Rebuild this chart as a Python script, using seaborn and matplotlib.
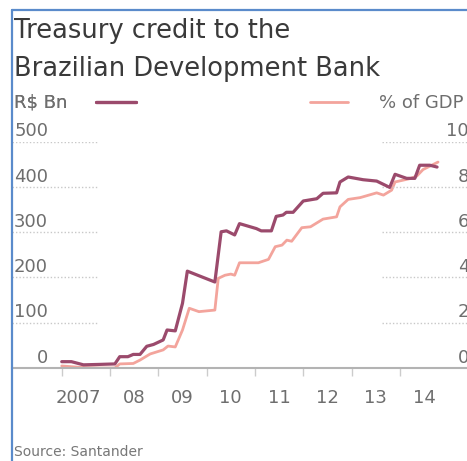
import pandas as pd
import matplotlib.pyplot as plt
import seaborn as sns
from matplotlib.lines import Line2D

# values (decimal years)
bn_years = [2007.0, 2007.2, 2007.45, 2007.8, 2008.1, 2008.2, 2008.37, 2008.48, 2008.62, 2008.76,
            2008.9, 2009.1, 2009.18, 2009.35, 2009.5, 2009.6, 2009.86, 2010.17, 2010.3, 2010.41,
            2010.58, 2010.68, 2011.03, 2011.13, 2011.34, 2011.44, 2011.58, 2011.65, 2011.79, 2012.0,
            2012.28, 2012.41, 2012.69, 2012.76, 2012.93, 2013.24, 2013.52, 2013.79, 2013.9, 2014.14,
            2014.31, 2014.41, 2014.62, 2014.77]
bn_values = [14, 14, 7, 8, 9, 25, 25, 30, 30, 48,
             52, 62, 84, 82, 143, 214, 203, 190, 301, 303,
             294, 319, 308, 303, 303, 335, 338, 344, 344, 369,
             374, 386, 387, 411, 422, 416, 413, 399, 428, 419,
             419, 448, 448, 444]

gdp_years = [2007.0, 2007.37, 2007.8, 2008.1, 2008.2, 2008.48, 2008.62, 2008.83, 2009.1, 2009.2,
             2009.35, 2009.5, 2009.64, 2009.84, 2010.17, 2010.24, 2010.38, 2010.5, 2010.58, 2010.68,
             2011.07, 2011.28, 2011.42, 2011.56, 2011.66, 2011.76, 2011.97, 2012.15, 2012.41, 2012.69,
             2012.76, 2012.93, 2013.18, 2013.52, 2013.66, 2013.83, 2013.9, 2014.21, 2014.35, 2014.48,
             2014.79]
gdp_values = [0.09, 0.03, 0.0, 0.0, 0.18, 0.2, 0.35, 0.62, 0.8, 0.97,
              0.93, 1.68, 2.64, 2.49, 2.56, 3.96, 4.1, 4.15, 4.1, 4.65,
              4.65, 4.8, 5.36, 5.43, 5.65, 5.6, 6.2, 6.24, 6.58, 6.68,
              7.12, 7.45, 7.53, 7.74, 7.64, 7.86, 8.22, 8.37, 8.48, 8.77,
              9.1]

year_ticks = [2007, 2008, 2009, 2010, 2011, 2012, 2013, 2014]
year_label_pos = [2007.34, 2008.5, 2009.5, 2010.5, 2011.5, 2012.5, 2013.5, 2014.5]
year_labels = ["2007", "08", "09", "10", "11", "12", "13", "14"]
bn_ticks = [0, 100, 200, 300, 400, 500]
gdp_ticks = [0, 2, 4, 6, 8, 10]

dark = "#9b4a6c"
light = "#f3a49c"
grey = "#6e6e6e"
border = "#5a8bcb"

df_bn = pd.DataFrame({"year": bn_years, "value": bn_values})
df_gdp = pd.DataFrame({"year": gdp_years, "value": gdp_values})

sns.set_style("white")
plt.rcParams["font.family"] = ["DejaVu Sans"]

W, H = 467, 461
fig = plt.figure(figsize=(W / 100, H / 100), dpi=100)
ax = fig.add_axes([12 / W, (H - 368) / H, (W - 12) / W, (368 - 141.7) / H])
ax2 = ax.twinx()

sns.lineplot(data=df_bn, x="year", y="value", ax=ax, color=dark, lw=2.3, zorder=3)
sns.lineplot(data=df_gdp, x="year", y="value", ax=ax2, color=light, lw=2.0, zorder=2)
ax.set_zorder(ax2.get_zorder() + 1)
ax.patch.set_visible(False)

ax.set_xlim(2005.97, 2015.39)
ax.set_ylim(0, 500)
ax2.set_ylim(0, 10)

for a in (ax, ax2):
    for s in a.spines.values():
        s.set_visible(False)
    a.set_yticks([])
    a.set_xlabel("")
    a.set_ylabel("")
ax.spines["bottom"].set_visible(True)
ax.spines["bottom"].set_color("#b3b3b3")
ax.spines["bottom"].set_linewidth(1.5)

ax.set_xticks(year_ticks)
ax.set_xticklabels([])
ax.set_xticks(year_label_pos, minor=True)
ax.set_xticklabels(year_labels, minor=True, fontsize=13, color=grey)
ax.tick_params(axis="x", which="major", bottom=True, length=6, width=1, color="#cccccc")
ax.tick_params(axis="x", which="minor", bottom=True, length=0, pad=15)

# dotted gridlines only under the tick labels
for v in bn_ticks:
    if v > 0:
        ax.axhline(v, xmin=0, xmax=0.187, color="#c8c8c8", ls=(0, (1, 1.5)), lw=1)
    ax.annotate(str(v), xy=(0, v), xycoords=("axes fraction", "data"),
                xytext=(26, 7.5), textcoords="offset points",
                ha="right", va="center", fontsize=13, color=grey)
for v in gdp_ticks:
    if v > 0:
        ax2.axhline(v, xmin=0.813, xmax=1, color="#c8c8c8", ls=(0, (1, 1.5)), lw=1)
    ax2.annotate(str(v), xy=(1, v), xycoords=("axes fraction", "data"),
                 xytext=(1.5, 7.5), textcoords="offset points",
                 ha="right", va="center", fontsize=13, color=grey, annotation_clip=False)

# legends
h1 = Line2D([], [], color=dark, lw=2.3)
h2 = Line2D([], [], color=light, lw=2.0)
leg1 = fig.legend([h1], ["R$ Bn"], loc="center left", bbox_to_anchor=(14 / W, 1 - 103 / H),
                  frameon=False, markerfirst=False, fontsize=13, handlelength=2.2,
                  handletextpad=1.6, borderpad=0, borderaxespad=0, labelcolor=grey)
fig.legend([h2], ["% of GDP"], loc="center left", bbox_to_anchor=(310 / W, 1 - 103 / H),
           frameon=False, fontsize=13, handlelength=2.1, handletextpad=1.7,
           borderpad=0, borderaxespad=0, labelcolor=grey)
fig.add_artist(leg1)

fig.text(14 / W, 1 - 38 / H, "Treasury credit to the", fontsize=18.5, color="#3a3a3a", va="baseline")
fig.text(14 / W, 1 - 76 / H, "Brazilian Development Bank", fontsize=18.5, color="#3a3a3a", va="baseline")
fig.text(14 / W, 1 - 452 / H, "Source: Santander", fontsize=10, color="#777777", va="center")

# frame edges
fig.add_artist(Line2D([12 / W, 12 / W], [0, 1 - 10 / H], color=border, lw=1.6))
fig.add_artist(Line2D([12 / W, 1], [1 - 10 / H, 1 - 10 / H], color=border, lw=1.6))

fig.savefig("out.png", dpi=100)
